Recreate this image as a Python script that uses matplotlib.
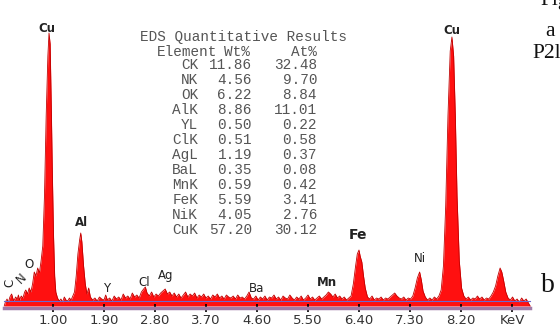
import matplotlib
matplotlib.use("Agg")
import matplotlib.pyplot as plt

# EDS spectrum: energy (keV) and counts (arbitrary, pixel-ish units)
energy = [0.14, 0.16, 0.19, 0.21, 0.24, 0.27, 0.29, 0.31, 0.34, 0.37, 0.39, 0.41, 0.44, 0.47, 0.50,
          0.52, 0.55, 0.58, 0.61, 0.64, 0.67, 0.70, 0.73, 0.76, 0.79, 0.82, 0.85, 0.88, 0.91, 0.93,
          0.95, 0.97, 0.99, 1.01, 1.03, 1.05, 1.08, 1.11, 1.14, 1.17, 1.20, 1.23, 1.26, 1.29, 1.32,
          1.35, 1.38, 1.41, 1.44, 1.47, 1.49, 1.51, 1.54, 1.57, 1.60, 1.63, 1.66, 1.70, 1.74, 1.78,
          1.82, 1.86, 1.90, 1.93, 1.96, 2.00, 2.04, 2.08, 2.12, 2.16, 2.20, 2.24, 2.28, 2.32, 2.36,
          2.40, 2.44, 2.48, 2.52, 2.56, 2.60, 2.63, 2.66, 2.70, 2.74, 2.78, 2.82, 2.86, 2.90, 2.94,
          2.98, 3.02, 3.06, 3.10, 3.14, 3.18, 3.22, 3.26, 3.30, 3.34, 3.38, 3.42, 3.46, 3.50, 3.54,
          3.58, 3.62, 3.66, 3.70, 3.74, 3.78, 3.82, 3.86, 3.90, 3.94, 3.98, 4.02, 4.06, 4.10, 4.14,
          4.18, 4.22, 4.26, 4.30, 4.34, 4.38, 4.42, 4.46, 4.50, 4.54, 4.58, 4.62, 4.66, 4.70, 4.74,
          4.78, 4.82, 4.86, 4.90, 4.94, 4.98, 5.02, 5.06, 5.10, 5.14, 5.18, 5.22, 5.26, 5.30, 5.34,
          5.38, 5.42, 5.46, 5.50, 5.54, 5.58, 5.62, 5.66, 5.70, 5.74, 5.78, 5.82, 5.86, 5.90, 5.94,
          5.98, 6.02, 6.06, 6.10, 6.14, 6.18, 6.22, 6.26, 6.30, 6.34, 6.37, 6.40, 6.42, 6.45, 6.48,
          6.51, 6.55, 6.59, 6.63, 6.67, 6.71, 6.75, 6.79, 6.83, 6.87, 6.91, 6.95, 6.99, 7.03, 7.07,
          7.11, 7.15, 7.19, 7.23, 7.27, 7.31, 7.35, 7.39, 7.43, 7.47, 7.50, 7.53, 7.57, 7.61, 7.65,
          7.69, 7.73, 7.77, 7.81, 7.85, 7.89, 7.93, 7.97, 8.01, 8.04, 8.07, 8.10, 8.13, 8.17, 8.21,
          8.25, 8.29, 8.33, 8.37, 8.41, 8.45, 8.49, 8.53, 8.57, 8.61, 8.65, 8.69, 8.73, 8.77, 8.81,
          8.85, 8.89, 8.92, 8.95, 8.99, 9.03, 9.07, 9.11, 9.15, 9.19, 9.23, 9.27, 9.31, 9.35, 9.39,
          9.42]
counts = [0, 4, 7, 3, 9, 12, 8, 5, 9, 7, 11, 6, 10, 8, 14,
          16, 12, 18, 14, 22, 34, 30, 38, 33, 45, 60, 110, 190, 250, 273,
          262, 200, 130, 70, 30, 14, 8, 5, 7, 4, 9, 6, 5, 8, 6,
          10, 14, 30, 52, 66, 73, 64, 40, 22, 12, 18, 9, 6, 8, 5,
          9, 7, 6, 11, 6, 8, 5, 10, 7, 9, 6, 12, 8, 10, 7,
          13, 9, 11, 8, 14, 17, 19, 13, 10, 14, 9, 12, 10, 13, 15,
          17, 12, 14, 10, 13, 9, 12, 8, 11, 14, 9, 12, 10, 13, 8,
          11, 9, 12, 8, 10, 7, 11, 9, 12, 8, 10, 7, 11, 9, 8,
          10, 7, 11, 8, 9, 7, 10, 14, 8, 7, 10, 6, 9, 7, 10,
          6, 9, 8, 11, 7, 9, 6, 10, 8, 7, 11, 8, 6, 9, 7,
          10, 6, 8, 11, 7, 9, 6, 8, 10, 7, 9, 11, 14, 12, 9,
          12, 8, 10, 7, 9, 6, 8, 10, 22, 40, 52, 56, 50, 44, 30,
          18, 9, 7, 10, 6, 8, 7, 9, 6, 8, 7, 9, 11, 13, 10,
          8, 7, 9, 6, 8, 7, 10, 18, 28, 34, 26, 15, 9, 6, 8,
          6, 9, 7, 10, 16, 40, 100, 190, 255, 269, 250, 190, 110, 45, 18,
          10, 7, 9, 6, 8, 7, 10, 7, 9, 6, 8, 7, 10, 14, 20,
          30, 38, 34, 26, 14, 8, 6, 9, 5, 7, 4, 8, 5, 7, 3,
          0]

tick_pos = [1.00, 1.90, 2.80, 3.70, 4.60, 5.50, 6.40, 7.30, 8.20, 9.10]
tick_labels = ["1.00", "1.90", "2.80", "3.70", "4.60", "5.50", "6.40", "7.30", "8.20", "KeV"]

peak_names = ["Cu", "Cu", "Al", "C", "N", "O", "Y", "Cl", "Ag", "Ba", "Mn", "Fe", "Ni"]
peak_E = [0.89, 8.04, 1.51, 0.24, 0.45, 0.58, 1.95, 2.61, 2.99, 4.60, 5.84, 6.38, 7.48]
peak_y = [277, 276, 84, 23, 28, 41, 18, 24, 30, 18, 23, 71, 48]

elements = ["CK", "NK", "OK", "AlK", "YL", "ClK", "AgL", "BaL", "MnK", "FeK", "NiK", "CuK"]
wt_pct = ["11.86", "4.56", "6.22", "8.86", "0.50", "0.51", "1.19", "0.35", "0.59", "5.59", "4.05", "57.20"]
at_pct = ["32.48", "9.70", "8.84", "11.01", "0.22", "0.58", "0.37", "0.08", "0.42", "3.41", "2.76", "30.12"]

W, H = 560, 329
fig = plt.figure(figsize=(W / 100, H / 100), dpi=100)
ax = fig.add_axes([0, 0, 1, 1])
ax.set_xlim((0 + 3.7) / 56.67, (W + 3.7) / 56.67)
ax.set_ylim(-23, 306)

ax.fill_between(energy, 0, counts, color="#ff1010", lw=0)
ax.plot(energy, counts, color="#c00000", lw=0.6)
ax.plot([0.14, 9.42], [5, 5], color="#6a6ad0", lw=0.8)

for s in ["top", "left", "right"]:
    ax.spines[s].set_visible(False)
ax.spines["bottom"].set_position(("data", -1.5))
ax.spines["bottom"].set_bounds(0.14, 9.42)
ax.spines["bottom"].set_color("#a07aa8")
ax.spines["bottom"].set_linewidth(2.5)
ax.set_yticks([])
ax.set_xticks(tick_pos)
ax.set_xticklabels(tick_labels, fontsize=9.5, color="#333333")
ax.tick_params(axis="x", direction="inout", length=6, width=1.2, color="black", pad=2)

for name, e, y in zip(peak_names, peak_E, peak_y):
    rot = 90 if name == "C" else (45 if name == "N" else 0)
    bold = name in ("Cu", "Fe", "Mn", "Al")
    size = 10 if name == "Fe" else 8.5
    ax.text(e, y, name, ha="center", va="center", fontsize=size, rotation=rot,
            fontweight="bold" if bold else "normal", color="#222222")


def px(x, y):
    return x / W, 1 - y / H


mono = dict(family="Liberation Mono", fontsize=10.4, color="#555555", transform=ax.transAxes, va="center")
ax.text(*px(140, 37), "EDS Quantitative Results", ha="left", **mono)
ax.text(*px(157, 52), "Element", ha="left", **mono)
ax.text(*px(250, 52), "Wt%", ha="right", **mono)
ax.text(*px(317, 52), "At%", ha="right", **mono)
for i, (el, wt, at) in enumerate(zip(elements, wt_pct, at_pct)):
    yy = 65 + i * 15
    ax.text(*px(198, yy), el, ha="right", **mono)
    ax.text(*px(252, yy), wt, ha="right", **mono)
    ax.text(*px(317, yy), at, ha="right", **mono)

serif = dict(family="Liberation Serif", color="#111111", transform=ax.transAxes)
ax.text(*px(540, 5), "Fig", fontsize=15.5, ha="left", va="baseline", **serif)
ax.text(*px(550, 31), "a", fontsize=15.5, ha="center", va="center", **serif)
ax.text(*px(532, 53), "P2l", fontsize=15.5, ha="left", va="center", **serif)
ax.text(*px(548, 286), "b", fontsize=20, ha="center", va="center", **serif)

fig.savefig("out.png", dpi=100)
